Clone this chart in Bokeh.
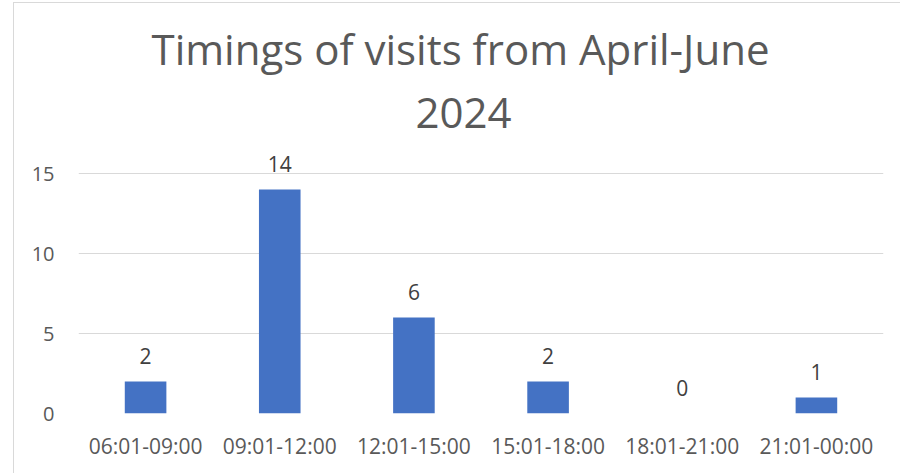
from bokeh.plotting import figure
from bokeh.models import ColumnDataSource, LabelSet, Title, FixedTicker
from bokeh.core.properties import value
from bokeh.embed import file_html
from bokeh.resources import INLINE

categories = ["06:01-09:00", "09:01-12:00", "12:01-15:00", "15:01-18:00", "18:01-21:00", "21:01-00:00"]
visits = [2, 14, 6, 2, 0, 1]
y_ticks = [0, 5, 10, 15]
title_line1 = "Timings of visits from April-June"
title_line2 = "2024"

FONT = "Open Sans"
src = ColumnDataSource(dict(cat=categories, val=visits, lab=[str(v) for v in visits]))

p = figure(x_range=categories, y_range=(0, 17), width=900, height=473,
           output_backend="svg", toolbar_location=None, title=None,
           min_border_left=78, min_border_right=17, min_border_bottom=60, min_border_top=141)
p.outline_line_color = None
p.background_fill_color = "white"
p.border_fill_color = None
p.styles = {
    "background-color": "white",
    "background-image": "linear-gradient(#d9d9d9, #d9d9d9), linear-gradient(#d9d9d9, #d9d9d9)",
    "background-size": "1px 100%, 100% 1px",
    "background-position": "13px 2px, 13px 2px",
    "background-repeat": "no-repeat",
}

p.vbar(x="cat", top="val", width=0.31, source=src, fill_color="#4472c4", line_color=None)

labels = LabelSet(x="cat", y="val", text="lab", source=src, y_offset=18, text_align="center",
                  text_baseline="alphabetic", text_font=value(FONT), text_font_size=value("21px"),
                  text_color=value("#404040"))
p.add_layout(labels)

t2 = Title(text=title_line2, align="left", offset=337, standoff=28, text_font=FONT,
           text_font_size="42px", text_font_style="normal", text_color="#595959")
t1 = Title(text=title_line1, align="left", offset=73, standoff=10, text_font=FONT,
           text_font_size="42px", text_font_style="normal", text_color="#595959")
p.add_layout(t2, "above")
p.add_layout(t1, "above")

p.xgrid.grid_line_color = None
p.ygrid.grid_line_color = "#d9d9d9"
p.ygrid.grid_line_width = 1
p.yaxis.ticker = FixedTicker(ticks=y_ticks)
p.ygrid.ticker = FixedTicker(ticks=y_ticks)

for ax in (p.xaxis, p.yaxis):
    ax.axis_line_color = None
    ax.major_tick_line_color = None
    ax.minor_tick_line_color = None
    ax.major_tick_out = 0
    ax.major_tick_in = 0
    ax.major_label_text_font = FONT
    ax.major_label_text_color = "#595959"
p.xaxis.major_label_text_font_size = "21px"
p.yaxis.major_label_text_font_size = "20px"
p.yaxis.major_label_standoff = 24
p.xaxis.major_label_standoff = 18

open("out.html", "w").write(file_html(p, INLINE))
